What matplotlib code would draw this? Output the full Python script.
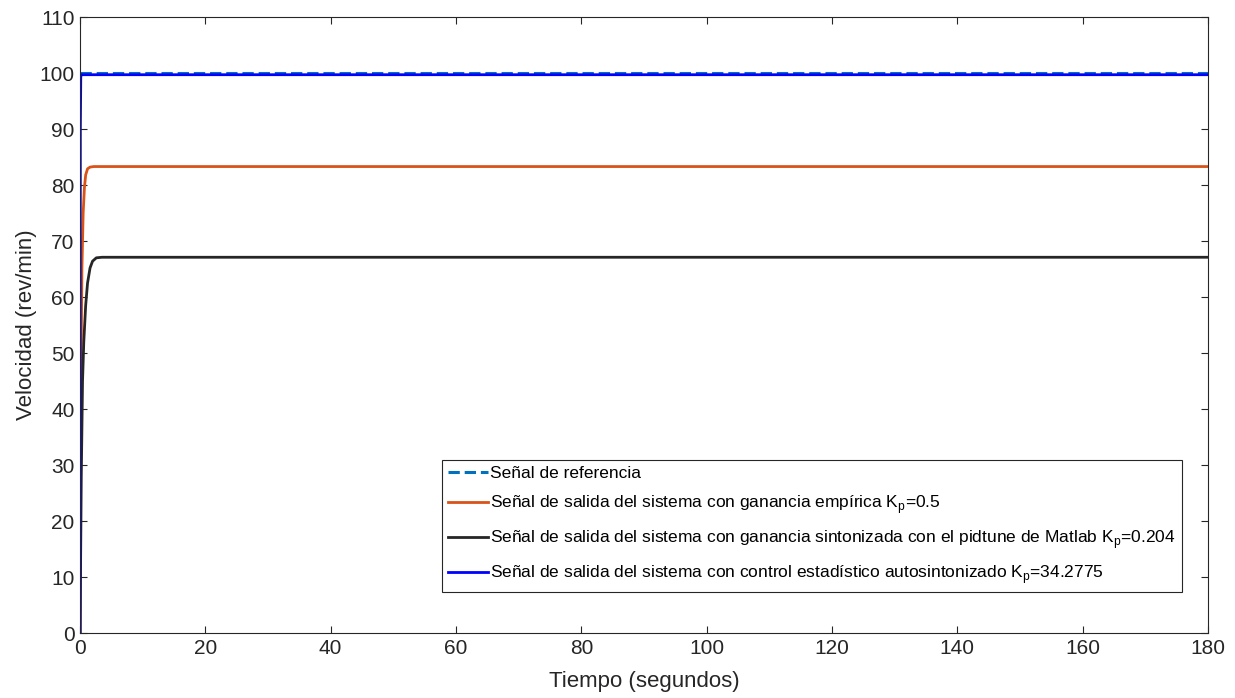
import matplotlib.pyplot as plt

# time points (s) and speed values (rev/min)
t_ref = [0, 180]
v_ref = [100, 100]

t_emp = [0, 0.15, 0.3, 0.5, 0.7, 0.9, 1.2, 1.6, 2.2, 180]
v_emp = [0, 45, 65, 75, 79.5, 81.8, 82.9, 83.2, 83.3, 83.3]

t_pid = [0, 0.2, 0.4, 0.6, 0.9, 1.2, 1.6, 2.0, 2.6, 3.5, 180]
v_pid = [0, 28, 45, 52, 58.5, 62.5, 65.2, 66.4, 67.0, 67.1, 67.1]

t_auto = [0, 0.05, 0.12, 0.2, 180]
v_auto = [0, 90, 99.3, 99.7, 99.7]

labels = [
    "Señal de referencia",
    "Señal de salida del sistema con ganancia empírica K$_\\mathregular{p}$=0.5",
    "Señal de salida del sistema con ganancia sintonizada con el pidtune de Matlab K$_\\mathregular{p}$=0.204",
    "Señal de salida del sistema con control estadístico autosintonizado K$_\\mathregular{p}$=34.2775",
]

plt.rcParams["font.family"] = ["Liberation Sans", "DejaVu Sans"]
plt.rcParams["mathtext.fontset"] = "custom"
plt.rcParams["mathtext.rm"] = "Liberation Sans"

dark = (0.15, 0.15, 0.15)

fig = plt.figure(figsize=(12.35, 6.98), dpi=100)
ax = fig.add_axes([0.0648, 0.0931, 0.9133, 0.8825])

ax.plot(t_ref, v_ref, "--", color=(0, 0.447, 0.741), lw=2.2, label=labels[0])
ax.plot(t_emp, v_emp, color=(0.85, 0.325, 0.098), lw=2, label=labels[1])
ax.plot(t_pid, v_pid, color=dark, lw=2, label=labels[2])
ax.plot(t_auto, v_auto, color=(0, 0, 1), lw=2, label=labels[3])

ax.set_xlim(0, 180)
ax.set_ylim(0, 110)
ax.set_xticks(range(0, 181, 20))
ax.set_yticks(range(0, 111, 10))
ax.tick_params(direction="in", length=5, labelsize=15, colors=dark,
               top=True, right=True, pad=4)
for s in ax.spines.values():
    s.set_color(dark)
    s.set_linewidth(0.8)

ax.set_xlabel("Tiempo (segundos)", fontsize=16, color=dark, labelpad=10)
ax.set_ylabel("Velocidad (rev/min)", fontsize=16, color=dark, labelpad=2)

leg = ax.legend(loc="lower right", bbox_to_anchor=(0.977, 0.066), fontsize=12.5,
                fancybox=False, framealpha=1, edgecolor=dark,
                handlelength=2.3, handletextpad=0.15, borderpad=0.35,
                labelspacing=0.7, borderaxespad=0)
leg.get_frame().set_linewidth(0.8)

fig.savefig("out.png", dpi=100)
